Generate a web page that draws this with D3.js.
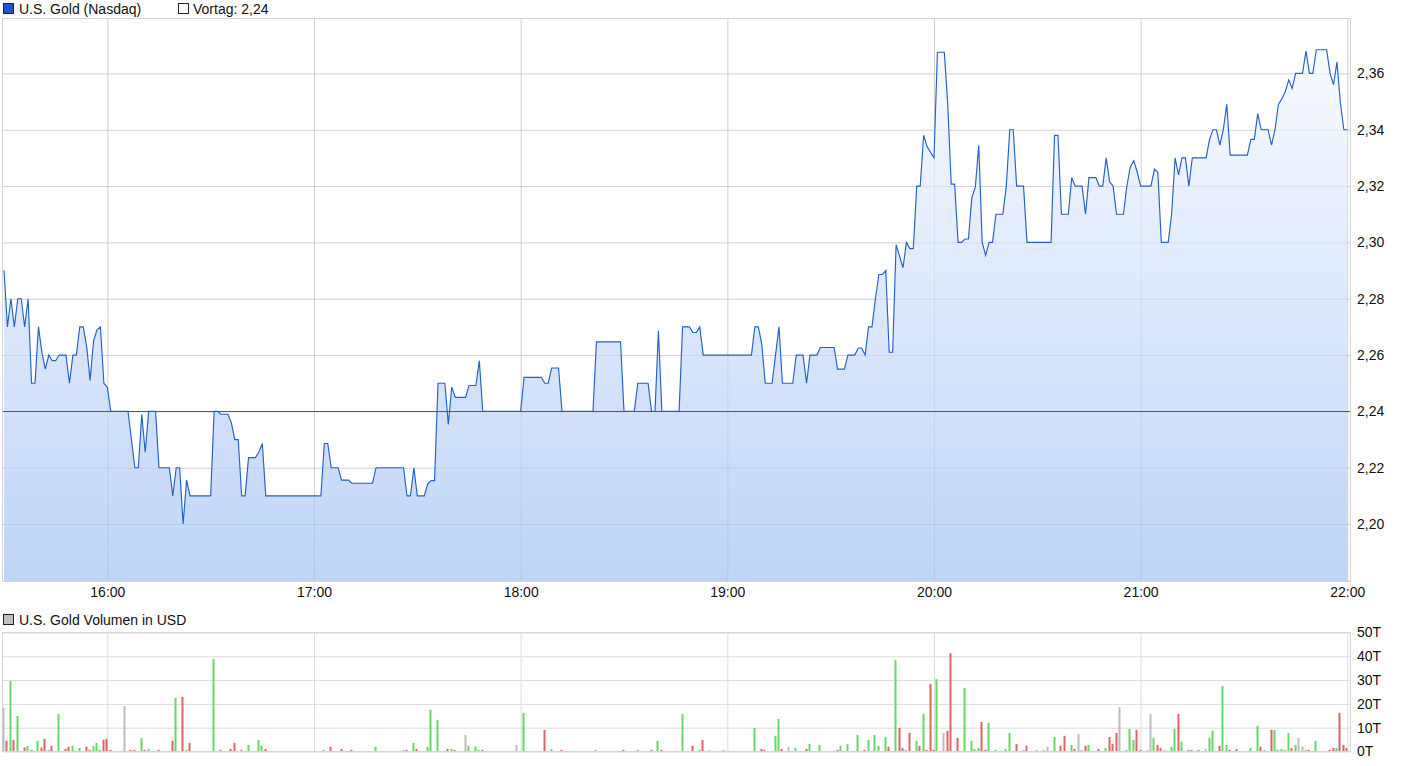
<!DOCTYPE html>
<html><head><meta charset="utf-8">
<script src="https://cdn.jsdelivr.net/npm/d3@7"></script>
<style>
body{margin:0;background:#fff;}
svg text{font-family:"Liberation Sans",Arial,sans-serif;font-size:14px;fill:#111;}
</style>
</head><body>
<svg id="c" width="1410" height="766"></svg>
<script>
// ---------- DATA ----------
const seriesName = "U.S. Gold (Nasdaq)";
const prevLabel = "Vortag: 2,24";
const volumeName = "U.S. Gold Volumen in USD";
const prevClose = 2.24;

const priceTimes = ["15:30","15:31","15:32","15:33","15:34","15:35","15:36","15:37","15:38","15:39","15:40","15:41","15:42","15:43","15:44","15:45","15:46","15:48","15:49","15:50","15:51","15:52","15:53","15:54","15:55","15:56","15:57","15:58","15:59","16:00","16:01","16:06","16:08","16:09","16:10","16:11","16:12","16:14","16:15","16:18","16:19","16:20","16:21","16:22","16:23","16:24","16:30","16:31","16:32","16:33","16:35","16:36","16:37","16:38","16:39","16:40","16:41","16:43","16:44","16:45","16:46","17:02","17:03","17:04","17:05","17:07","17:08","17:10","17:11","17:17","17:18","17:26","17:27","17:28","17:29","17:30","17:32","17:33","17:34","17:35","17:36","17:38","17:39","17:40","17:41","17:44","17:45","17:47","17:48","17:49","18:00","18:01","18:06","18:07","18:08","18:09","18:11","18:12","18:21","18:22","18:29","18:30","18:33","18:34","18:37","18:38","18:39","18:40","18:41","18:46","18:47","18:49","18:50","18:51","18:52","18:53","19:07","19:08","19:09","19:10","19:11","19:13","19:14","19:15","19:16","19:19","19:20","19:22","19:23","19:24","19:26","19:27","19:31","19:32","19:34","19:35","19:37","19:38","19:39","19:40","19:41","19:42","19:43","19:44","19:45","19:46","19:47","19:48","19:49","19:51","19:52","19:53","19:54","19:55","19:56","19:57","19:58","19:59","20:00","20:01","20:03","20:04","20:05","20:06","20:07","20:08","20:09","20:10","20:11","20:12","20:13","20:14","20:15","20:16","20:17","20:18","20:20","20:21","20:22","20:23","20:24","20:26","20:27","20:34","20:35","20:36","20:37","20:39","20:40","20:41","20:43","20:44","20:45","20:47","20:48","20:49","20:50","20:51","20:52","20:53","20:55","20:56","20:57","20:58","20:59","21:00","21:03","21:04","21:05","21:06","21:08","21:09","21:10","21:11","21:12","21:13","21:14","21:15","21:19","21:20","21:21","21:22","21:23","21:24","21:25","21:26","21:31","21:32","21:33","21:34","21:35","21:37","21:38","21:39","21:40","21:41","21:42","21:43","21:44","21:45","21:47","21:48","21:49","21:50","21:51","21:54","21:55","21:56","21:57","21:58","21:59","22:00"];
const priceValues = [2.29,2.27,2.28,2.27,2.28,2.28,2.27,2.28,2.25,2.25,2.27,2.261,2.255,2.26,2.258,2.258,2.26,2.26,2.25,2.26,2.26,2.27,2.27,2.263,2.251,2.265,2.269,2.27,2.25,2.2486,2.24,2.24,2.22,2.22,2.239,2.2255,2.24,2.24,2.22,2.22,2.21,2.22,2.22,2.20,2.2156,2.21,2.21,2.24,2.24,2.239,2.239,2.236,2.23,2.23,2.21,2.21,2.2236,2.2236,2.2256,2.2286,2.21,2.21,2.2286,2.2286,2.22,2.22,2.2156,2.2156,2.2145,2.2145,2.22,2.22,2.21,2.21,2.22,2.21,2.21,2.2142,2.2154,2.2154,2.25,2.25,2.2354,2.2486,2.245,2.245,2.2492,2.2492,2.258,2.24,2.24,2.2521,2.2521,2.25,2.25,2.2554,2.2554,2.24,2.24,2.2647,2.2647,2.24,2.24,2.25,2.25,2.24,2.24,2.2686,2.24,2.24,2.27,2.27,2.268,2.268,2.27,2.26,2.26,2.27,2.27,2.264,2.25,2.25,2.26,2.27,2.25,2.25,2.26,2.26,2.25,2.26,2.26,2.2627,2.2627,2.255,2.255,2.26,2.26,2.2625,2.2625,2.26,2.27,2.27,2.28,2.2886,2.2886,2.29,2.261,2.261,2.2992,2.291,2.30,2.2978,2.2978,2.32,2.32,2.338,2.334,2.332,2.33,2.3675,2.3675,2.349,2.3207,2.3207,2.30,2.30,2.3012,2.3012,2.316,2.3195,2.3345,2.30,2.2954,2.30,2.30,2.31,2.31,2.32,2.34,2.34,2.32,2.32,2.30,2.30,2.338,2.338,2.31,2.31,2.323,2.32,2.32,2.31,2.323,2.323,2.32,2.32,2.33,2.3215,2.32,2.31,2.31,2.32,2.3268,2.329,2.325,2.32,2.32,2.326,2.3248,2.30,2.30,2.31,2.33,2.324,2.33,2.33,2.32,2.33,2.33,2.3366,2.34,2.34,2.3345,2.34,2.349,2.331,2.331,2.3366,2.3366,2.3457,2.34,2.34,2.3345,2.34,2.349,2.351,2.3535,2.3577,2.3547,2.36,2.36,2.368,2.36,2.36,2.3684,2.3684,2.36,2.356,2.364,2.3495,2.34,2.34];

const volTimes = ["15:30","15:31","15:32","15:33","15:34","15:36","15:37","15:38","15:40","15:41","15:42","15:43","15:44","15:46","15:48","15:49","15:50","15:52","15:54","15:55","15:56","15:57","15:58","15:59","16:00","16:01","16:05","16:07","16:08","16:10","16:11","16:12","16:15","16:19","16:20","16:22","16:23","16:24","16:31","16:33","16:36","16:37","16:39","16:41","16:44","16:45","16:46","17:03","17:05","17:08","17:11","17:18","17:26","17:27","17:29","17:30","17:33","17:34","17:36","17:39","17:40","17:41","17:44","17:45","17:47","17:48","17:49","17:59","18:01","18:07","18:09","18:12","18:22","18:30","18:34","18:38","18:40","18:41","18:47","18:50","18:52","18:53","18:55","18:59","19:08","19:10","19:11","19:14","19:15","19:16","19:18","19:20","19:23","19:24","19:27","19:32","19:33","19:35","19:38","19:40","19:41","19:43","19:44","19:46","19:47","19:49","19:50","19:51","19:52","19:53","19:55","19:56","19:57","19:58","19:59","20:00","20:01","20:03","20:04","20:05","20:07","20:09","20:11","20:12","20:13","20:14","20:15","20:16","20:18","20:21","20:22","20:24","20:26","20:27","20:30","20:32","20:33","20:35","20:37","20:38","20:40","20:41","20:42","20:43","20:44","20:45","20:48","20:50","20:51","20:52","20:53","20:54","20:56","20:57","20:58","20:59","21:00","21:02","21:03","21:04","21:05","21:06","21:07","21:09","21:10","21:11","21:12","21:14","21:15","21:17","21:19","21:20","21:21","21:23","21:24","21:25","21:26","21:28","21:32","21:34","21:35","21:36","21:38","21:39","21:40","21:41","21:42","21:43","21:44","21:45","21:46","21:47","21:48","21:49","21:51","21:55","21:56","21:57","21:58","21:59","22:00"];
const volValues = [18.4,4.5,29.6,4.9,14.9,1.7,2.4,0.7,4.5,1.7,5.3,0.7,2.4,15.8,1.1,2.0,2.4,1.5,2.0,0.7,2.4,3.6,0.7,4.9,5.3,0.7,19.1,0.7,0.7,5.7,0.7,1.1,0.7,4.5,22.5,22.9,0.7,3.6,38.8,0.7,1.1,3.6,0.7,2.8,4.9,2.4,1.1,0.7,2.0,1.1,0.7,2.0,0.7,0.7,3.6,1.1,2.0,17.5,13.3,1.1,1.1,0.7,7.0,2.4,2.0,0.7,0.7,2.8,16.2,9.1,1.1,0.7,0.7,0.7,0.7,0.7,4.5,0.7,15.8,2.4,0.7,4.9,0.7,0.7,9.9,1.1,0.7,6.6,13.7,1.1,2.0,1.5,1.1,3.2,2.8,0.7,2.4,3.2,7.0,0.7,4.9,7.0,2.4,6.1,2.0,38.4,9.9,1.5,0.7,7.8,4.5,2.4,15.8,0.7,28.4,0.7,30.4,7.8,8.7,41.3,5.7,26.7,4.5,1.1,1.5,12.4,0.7,12.0,0.7,1.1,7.8,3.2,0.7,2.4,0.7,0.7,2.0,6.1,2.4,6.6,2.8,1.1,7.4,0.7,2.4,2.8,1.1,1.5,6.1,3.2,7.8,18.7,0.7,9.5,4.9,9.1,0.7,0.7,15.8,5.7,2.8,1.5,0.7,2.0,9.5,15.8,4.1,0.7,0.7,0.7,1.1,5.7,8.7,2.4,27.5,2.8,0.7,1.1,1.5,10.8,2.0,0.7,9.1,9.1,0.7,1.1,0.7,7.8,1.5,2.8,5.7,2.0,0.7,0.7,4.5,0.7,1.5,1.5,16.2,2.8,1.5];
const volDirs = ["n","d","u","d","u","d","u","d","u","d","d","u","d","u","d","d","u","u","d","d","u","u","u","d","d","d","n","d","d","u","d","u","d","d","u","d","u","d","u","d","d","d","d","u","u","u","d","u","d","d","d","u","n","d","u","d","u","u","u","d","u","d","n","u","u","u","d","n","u","d","u","d","u","d","u","d","u","d","u","d","u","d","n","n","u","d","d","u","u","d","n","u","d","u","u","d","u","u","u","d","u","u","u","u","d","u","d","d","u","d","u","d","u","d","d","d","u","n","d","d","d","u","u","u","u","d","d","u","u","u","u","d","n","d","n","n","n","u","d","d","u","d","n","n","d","u","d","u","d","d","d","n","u","u","u","d","d","n","n","u","d","d","n","u","u","d","u","d","u","d","n","u","u","d","u","u","d","d","u","u","d","n","d","u","u","u","u","u","d","u","n","n","u","d","u","d","d","u","d","d","d"];

const priceTicks = [2.20,2.22,2.24,2.26,2.28,2.30,2.32,2.34,2.36];
const volTicks = [0,10,20,30,40,50];
const timeTicks = ["16:00","17:00","18:00","19:00","20:00","21:00","22:00"];
const timeStart = "15:30", timeEnd = "22:00";

// ---------- SETUP ----------
const parse = d3.timeParse("%H:%M");
const fmtTime = d3.timeFormat("%H:%M");
const de = d3.formatLocale({decimal:",",thousands:".",grouping:[3],currency:["","€"]});
const fmtPrice = de.format(".2f");

const svg = d3.select("#c");
const L = 2.5, R = 1350.5;
const mainTop = 18.5, mainBot = 581.5;
const volTop = 632.5, volBot = 751.5;

const x = d3.scaleTime().domain([parse(timeStart), parse(timeEnd)]).range([4, 1347.3]);
const y = d3.scaleLinear().domain([2.1796, 2.3795]).range([mainBot, mainTop]);
const yv = d3.scaleLinear().domain([0, 50]).range([volBot, volTop]);

const price = priceTimes.map((t,i)=>({t:parse(t), v:priceValues[i]}));
const vols = volTimes.map((t,i)=>({t:parse(t), v:volValues[i], d:volDirs[i]}));
const hourTicks = timeTicks.map(parse);

const defs = svg.append("defs");
const grad = defs.append("linearGradient").attr("id","g").attr("gradientUnits","userSpaceOnUse")
  .attr("x1",0).attr("x2",0).attr("y1",mainTop).attr("y2",mainBot);
grad.append("stop").attr("offset","0").attr("stop-color","#fbfcff");
grad.append("stop").attr("offset","1").attr("stop-color","#b9d1f7");

// ---------- MAIN PANEL ----------
const gMain = svg.append("g");
gMain.append("g").attr("transform",`translate(${L},0)`)
  .call(d3.axisLeft(y).tickValues(priceTicks).tickSize(-(R-L)).tickFormat(""))
  .call(g=>g.select(".domain").remove())
  .call(g=>g.selectAll("line").attr("stroke","#dcdcdc"));
gMain.append("g").attr("transform",`translate(0,${mainBot})`)
  .call(d3.axisBottom(x).tickValues(hourTicks).tickSize(-(mainBot-mainTop)).tickFormat(""))
  .call(g=>g.select(".domain").remove())
  .call(g=>g.selectAll("line").attr("stroke","#dcdcdc"));

gMain.append("path").datum(price)
  .attr("fill","url(#g)").attr("fill-opacity",0.92)
  .attr("d", d3.area().x(d=>x(d.t)).y0(mainBot).y1(d=>y(d.v)));

gMain.append("g").attr("transform",`translate(${L},0)`)
  .call(d3.axisLeft(y).tickValues(priceTicks).tickSize(-(R-L)).tickFormat(""))
  .call(g=>g.select(".domain").remove())
  .call(g=>g.selectAll("line").attr("stroke","#000").attr("stroke-opacity",0.05));
gMain.append("g").attr("transform",`translate(0,${mainBot})`)
  .call(d3.axisBottom(x).tickValues(hourTicks).tickSize(-(mainBot-mainTop)).tickFormat(""))
  .call(g=>g.select(".domain").remove())
  .call(g=>g.selectAll("line").attr("stroke","#000").attr("stroke-opacity",0.05));

gMain.append("line").attr("x1",L).attr("x2",R)
  .attr("y1",Math.round(y(prevClose))+0.5).attr("y2",Math.round(y(prevClose))+0.5)
  .attr("stroke","#5a5a5a").attr("stroke-width",1);

gMain.append("path").datum(price)
  .attr("fill","none").attr("stroke","#2262c6").attr("stroke-width",1.15)
  .attr("stroke-linejoin","miter")
  .attr("d", d3.line().x(d=>x(d.t)).y(d=>y(d.v)));

gMain.append("rect").attr("x",L).attr("y",mainTop).attr("width",R-L).attr("height",mainBot-mainTop)
  .attr("fill","none").attr("stroke","#d4d4d4");

gMain.append("g").attr("transform",`translate(${R},0)`)
  .call(d3.axisRight(y).tickValues(priceTicks).tickSize(0).tickPadding(6.5).tickFormat(fmtPrice))
  .call(g=>g.select(".domain").remove())
  .call(g=>g.selectAll("text").attr("font-size",null).attr("font-family",null));

gMain.append("g").attr("transform",`translate(0,${mainBot})`)
  .call(d3.axisBottom(x).tickValues(hourTicks).tickSize(0).tickFormat(fmtTime))
  .call(g=>g.select(".domain").remove())
  .call(g=>g.selectAll("text").attr("y",10.5).attr("dy","0.35em").attr("font-size",null).attr("font-family",null));

const leg = svg.append("g");
leg.append("rect").attr("x",3.5).attr("y",3.5).attr("width",10).attr("height",10)
  .attr("fill","#1b57c4").attr("stroke","#222");
leg.append("text").attr("x",19).attr("y",14).text(seriesName);
leg.append("rect").attr("x",178.5).attr("y",3.5).attr("width",10).attr("height",10)
  .attr("fill","#fff").attr("stroke","#222");
leg.append("text").attr("x",193).attr("y",14).text(prevLabel);

// ---------- VOLUME PANEL ----------
const gVol = svg.append("g");
gVol.append("g").attr("transform",`translate(${L},0)`)
  .call(d3.axisLeft(yv).tickValues(volTicks).tickSize(-(R-L)).tickFormat(""))
  .call(g=>g.select(".domain").remove())
  .call(g=>g.selectAll("line").attr("stroke","#dcdcdc"));
gVol.append("g").attr("transform",`translate(0,${volBot})`)
  .call(d3.axisBottom(x).tickValues(hourTicks).tickSize(-(volBot-volTop)).tickFormat(""))
  .call(g=>g.select(".domain").remove())
  .call(g=>g.selectAll("line").attr("stroke","#dcdcdc"));
gVol.append("rect").attr("x",L).attr("y",volTop).attr("width",R-L).attr("height",volBot-volTop)
  .attr("fill","none").attr("stroke","#d4d4d4");

const volColor = {u:"#66d866", d:"#dc6464", n:"#bdbdbd"};
gVol.selectAll("rect.bar").data(vols).enter().append("rect").attr("class","bar")
  .attr("x", d=>Math.round(x(d.t))-1.5)
  .attr("width",2)
  .attr("y", d=>yv(d.v))
  .attr("height", d=>volBot-0.5-yv(d.v))
  .attr("fill", d=>volColor[d.d]);

gVol.append("g").attr("transform",`translate(${R},0)`)
  .call(d3.axisRight(yv).tickValues(volTicks).tickSize(0).tickPadding(6.5).tickFormat(d=>d+"T"))
  .call(g=>g.select(".domain").remove())
  .call(g=>g.selectAll("text").attr("font-size",null).attr("font-family",null));

const leg2 = svg.append("g");
leg2.append("rect").attr("x",3.5).attr("y",614.5).attr("width",10).attr("height",10)
  .attr("fill","#c0c0c0").attr("stroke","#222");
leg2.append("text").attr("x",19).attr("y",624.5).text(volumeName);
</script>
</body></html>
